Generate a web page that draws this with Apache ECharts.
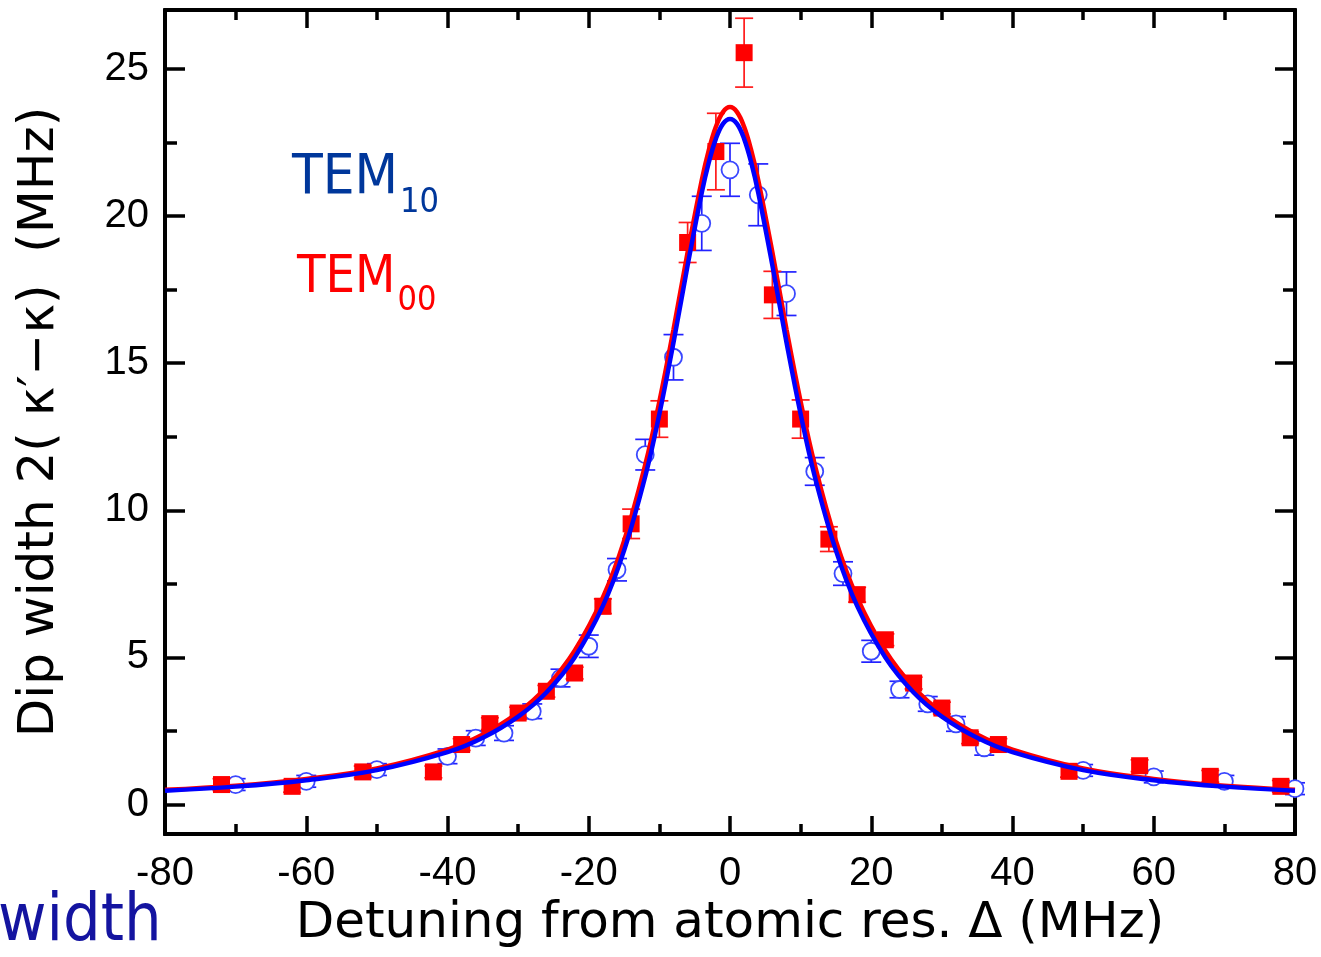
<!DOCTYPE html>
<html><head><meta charset="utf-8">
<script src="https://cdn.jsdelivr.net/npm/echarts@6/dist/echarts.min.js"></script>
<style>html,body{margin:0;padding:0;background:#fff;}#c{width:1321px;height:957px;}</style>
</head><body><div id="c"></div>
<script>
// TEM00 (red squares): detuning, dip width, error
const tem00X   = [-72, -62, -52, -42, -38, -34, -30, -26, -22, -18, -14, -10, -6, -2, 2, 6, 10, 14, 18, 22, 26, 30, 34, 38, 48, 58, 68, 78];
const tem00Y   = [0.68, 0.62, 1.11, 1.11, 2.04, 2.75, 3.11, 3.85, 4.47, 6.74, 9.54, 13.1, 19.1, 22.19, 25.55, 17.32, 13.1, 9.02, 7.13, 5.6, 4.13, 3.28, 2.27, 2.04, 1.13, 1.32, 0.96, 0.62];
const tem00Err = [0.2, 0.2, 0.2, 0.2, 0.2, 0.2, 0.2, 0.2, 0.2, 0.25, 0.5, 0.62, 0.68, 1.3, 1.17, 0.8, 0.65, 0.42, 0.25, 0.2, 0.2, 0.2, 0.2, 0.2, 0.2, 0.2, 0.2, 0.2];
// TEM10 (blue open circles)
const tem10X   = [-70, -60, -50, -40, -36, -32, -28, -24, -20, -16, -12, -8, -4, 0, 4, 8, 12, 16, 20, 24, 28, 32, 36, 50, 60, 70, 80];
const tem10Y   = [0.68, 0.79, 1.19, 1.64, 2.26, 2.43, 3.17, 4.30, 5.38, 7.98, 11.89, 15.2, 19.75, 21.57, 20.72, 17.36, 11.32, 7.85, 5.21, 3.91, 3.42, 2.74, 1.93, 1.16, 0.94, 0.79, 0.54];
const tem10Err = [0.2, 0.2, 0.2, 0.25, 0.25, 0.25, 0.25, 0.3, 0.38, 0.38, 0.52, 0.77, 0.92, 0.9, 1.05, 0.74, 0.47, 0.4, 0.37, 0.28, 0.25, 0.25, 0.25, 0.2, 0.2, 0.2, 0.2];
// Fitted curves
const fitX  = [-80, -70, -60, -50, -40, -35, -30, -26, -22, -18, -15, -12, -10, -8, -6, -4, -3, -2, -1, 0, 1, 2, 3, 4, 6, 8, 10, 12, 15, 18, 22, 26, 30, 35, 40, 50, 60, 70, 80];
const fit00 = [0.50, 0.64, 0.87, 1.23, 1.87, 2.38, 3.13, 3.99, 5.23, 7.04, 8.96, 11.55, 13.70, 16.15, 18.77, 21.22, 22.24, 23.03, 23.53, 23.70, 23.53, 23.03, 22.24, 21.22, 18.77, 16.15, 13.70, 11.55, 8.96, 7.04, 5.23, 3.99, 3.13, 2.38, 1.87, 1.23, 0.87, 0.64, 0.50];
const fit10 = [0.47, 0.61, 0.83, 1.17, 1.78, 2.27, 2.99, 3.81, 5.00, 6.75, 8.63, 11.15, 13.27, 15.70, 18.32, 20.79, 21.82, 22.62, 23.13, 23.30, 23.13, 22.62, 21.82, 20.79, 18.32, 15.70, 13.27, 11.15, 8.63, 6.75, 5.00, 3.81, 2.99, 2.27, 1.78, 1.17, 0.83, 0.61, 0.47];
// Axis ticks
const xMin = -80, xMax = 80;
const xTickLabels = [-80, -60, -40, -20, 0, 20, 40, 60, 80];
const xMinorTicks = [-70, -50, -30, -10, 10, 30, 50, 70];
const yMin = -1, yMax = 27;
const yTickLabels = [0, 5, 10, 15, 20, 25];
const yMinorTicks = [2.5, 7.5, 12.5, 17.5, 22.5];

const zip3 = (a, b, c) => a.map((v, i) => [v, b[i], c[i]]);
const zip2 = (a, b) => a.map((v, i) => [v, b[i]]);

function errRender(color, capHalf) {
  return function (params, api) {
    const x = api.value(0), y = api.value(1), e = api.value(2);
    const hi = api.coord([x, y + e]), lo = api.coord([x, y - e]);
    const st = { stroke: color, lineWidth: 1.7 };
    return { type: 'group', children: [
      { type: 'line', shape: { x1: hi[0], y1: hi[1], x2: lo[0], y2: lo[1] }, style: st },
      { type: 'line', shape: { x1: hi[0] - capHalf, y1: hi[1], x2: hi[0] + capHalf, y2: hi[1] }, style: st },
      { type: 'line', shape: { x1: lo[0] - capHalf, y1: lo[1], x2: lo[0] + capHalf, y2: lo[1] }, style: st }
    ]};
  };
}

const tickFont = { fontFamily: 'Liberation Sans, Arial, sans-serif', fontSize: 40, color: '#000' };
const axLine = { show: true, onZero: false, lineStyle: { color: '#000', width: 4 } };

function ax(pos, min, max, values, len, labels, margin, inside) {
  return {
    type: 'value', position: pos, min: min, max: max,
    axisLine: axLine, splitLine: { show: false }, minorTick: { show: false },
    axisTick: { show: true, inside: inside !== false, length: len, customValues: values, lineStyle: { color: '#000', width: 3.5 } },
    axisLabel: labels ? Object.assign({ show: true, margin: margin, customValues: values }, tickFont) : { show: false }
  };
}
const plotH = 957 - 10 - 123;

const chart = echarts.init(document.getElementById('c'), null, { renderer: 'canvas' });
chart.setOption({
  animation: false,
  backgroundColor: '#fff',
  grid: { left: 165, right: 26, top: 10, bottom: 123 },
  xAxis: [
    Object.assign(ax('bottom', xMin, xMax, xTickLabels, 18, true, 20), {
      name: 'Detuning from atomic res. \u0394 (MHz)', nameLocation: 'middle', nameGap: 60,
      nameTextStyle: { fontFamily: 'DejaVu Sans', fontSize: 50, color: '#000' } }),
    Object.assign(ax('top', xMin, xMax, xTickLabels, 18, false, 0, false), { offset: -plotH }),
    Object.assign(ax('top', xMin, xMax, xMinorTicks, 10, false, 0, false), { offset: -plotH }),
    ax('top', xMin, xMax, xTickLabels, 18, false),
    ax('top', xMin, xMax, xMinorTicks, 10, false)
  ],
  yAxis: [
    Object.assign(ax('left', yMin, yMax, yTickLabels, 20, true, 16), {
      name: 'Dip width 2( \u03BA\u2032\u2212\u03BA)  (MHz)', nameLocation: 'middle', nameGap: 100,
      nameTextStyle: { fontFamily: 'DejaVu Sans', fontSize: 50, color: '#000' } }),
    ax('left', yMin, yMax, yMinorTicks, 12, false),
    ax('right', yMin, yMax, yTickLabels, 20, false),
    ax('right', yMin, yMax, yMinorTicks, 12, false)
  ],
  series: [
    { type: 'custom', xAxisIndex: 0, yAxisIndex: 0, renderItem: errRender('#2222ff', 10), data: zip3(tem10X, tem10Y, tem10Err), encode: { x: 0, y: 1 }, z: 2 },
    { type: 'scatter', xAxisIndex: 0, yAxisIndex: 0, symbol: 'circle', symbolSize: 17, data: zip2(tem10X, tem10Y),
      itemStyle: { color: '#fff', borderColor: '#3a48ff', borderWidth: 1.8, opacity: 1 }, z: 3 },
    { type: 'custom', xAxisIndex: 0, yAxisIndex: 0, renderItem: errRender('#ff1a1a', 9), data: zip3(tem00X, tem00Y, tem00Err), encode: { x: 0, y: 1 }, z: 4 },
    { type: 'scatter', xAxisIndex: 0, yAxisIndex: 0, symbol: 'rect', symbolSize: 17, data: zip2(tem00X, tem00Y),
      itemStyle: { color: '#ff0000', opacity: 1 }, z: 5 },
    { type: 'line', xAxisIndex: 0, yAxisIndex: 0, data: zip2(fitX, fit00), smooth: 0.4, showSymbol: false,
      lineStyle: { color: '#ff0000', width: 4.5 }, z: 6 },
    { type: 'line', xAxisIndex: 0, yAxisIndex: 0, data: zip2(fitX, fit10), smooth: 0.4, showSymbol: false,
      lineStyle: { color: '#0000ff', width: 4.5 }, z: 7 }
  ],
  graphic: [
    { type: 'text', left: 292, top: 150, style: { text: '{a|TEM}{b|10}', rich: {
      a: { fontFamily: 'DejaVu Sans Condensed', fontSize: 56, fill: '#00379b', verticalAlign: 'bottom' },
      b: { fontFamily: 'DejaVu Sans Condensed', fontSize: 34, fill: '#00379b', verticalAlign: 'bottom', padding: [0, 0, -14, 2] } } } },
    { type: 'text', left: 297, top: 252, style: { text: '{a|TEM}{b|00}', rich: {
      a: { fontFamily: 'DejaVu Sans Condensed', fontSize: 52, fill: '#ff0000', verticalAlign: 'bottom' },
      b: { fontFamily: 'DejaVu Sans Condensed', fontSize: 34, fill: '#ff0000', verticalAlign: 'bottom', padding: [0, 0, -14, 2] } } } },
    { type: 'text', left: -2, top: 890, style: { text: 'width', fontFamily: 'DejaVu Sans Condensed', fontSize: 66, fill: '#1414a0' } }
  ]
});
</script></body></html>
